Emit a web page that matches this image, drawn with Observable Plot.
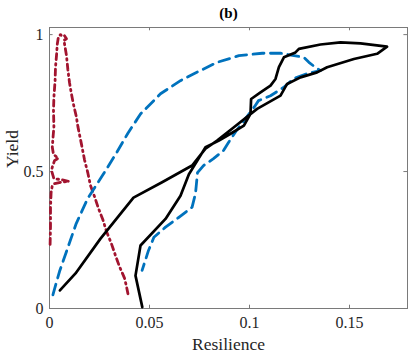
<!DOCTYPE html>
<html>
<head>
<meta charset="utf-8">
<script src="https://cdn.jsdelivr.net/npm/d3@7"></script>
<script src="https://cdn.jsdelivr.net/npm/@observablehq/plot@0.6"></script>
<style>
  html, body { margin: 0; padding: 0; background: #fff; }
  #chart svg { display: block; }
  #chart svg, #chart svg text { font-family: "Liberation Serif", "Times New Roman", serif !important; }
</style>
</head>
<body>
<div id="chart"></div>
<script>
// ---- data ----
const title = "(b)";
const xLabel = "Resilience";
const yLabel = "Yield";
const xTicks = [0, 0.05, 0.1, 0.15];
const xTickLabels = ["0", "0.05", "0.1", "0.15"];
const yTicks = [0, 0.5, 1];
const yTickLabels = ["0", "0.5", "1"];
const xDomain = [0, 0.179];
const yDomain = [0, 1.026];

// black solid curve
const blackX = [0.0052, 0.013, 0.0255, 0.042, 0.0563, 0.0713, 0.078, 0.0838, 0.0922, 0.1038, 0.1155, 0.1188, 0.1255, 0.1338, 0.1388, 0.1522, 0.1638, 0.1688,
  0.1555, 0.1455, 0.1355, 0.1247, 0.123, 0.1172, 0.1147, 0.113, 0.1105, 0.1055, 0.1008, 0.1005, 0.0972, 0.0905, 0.0847, 0.078, 0.073, 0.0697, 0.0655, 0.058, 0.0455, 0.043, 0.0464];
const blackY = [0.066, 0.128, 0.255, 0.405, 0.461, 0.522, 0.584, 0.613, 0.662, 0.729, 0.777, 0.82, 0.844, 0.862, 0.881, 0.911, 0.93, 0.956,
  0.968, 0.972, 0.964, 0.948, 0.935, 0.917, 0.881, 0.838, 0.814, 0.789, 0.765, 0.711, 0.668, 0.638, 0.613, 0.589, 0.529, 0.49, 0.412, 0.327, 0.23, 0.12, 0.005];

// blue dashed curve
const blueX = [0.0017, 0.005, 0.0134, 0.0192, 0.0267, 0.0334, 0.0392, 0.0455, 0.0555, 0.0655, 0.0722, 0.0839, 0.0947, 0.1064, 0.1155, 0.1272, 0.1297, 0.1339, 0.1355,
  0.129, 0.122, 0.117, 0.1105, 0.1045, 0.1025, 0.098, 0.0935, 0.0895, 0.087, 0.082, 0.077, 0.074, 0.073, 0.0713, 0.0645, 0.058, 0.0522, 0.0495, 0.0463];
const blueY = [0.05, 0.135, 0.311, 0.403, 0.488, 0.567, 0.64, 0.71, 0.784, 0.832, 0.857, 0.899, 0.923, 0.932, 0.932, 0.917, 0.899, 0.875, 0.869,
  0.858, 0.839, 0.807, 0.777, 0.759, 0.737, 0.693, 0.65, 0.606, 0.577, 0.547, 0.522, 0.496, 0.42, 0.37, 0.332, 0.297, 0.26, 0.212, 0.139];

// red dash-dot curve
const redX = [0.0003, 0.0005, 0.0005, 0.0008, 0.0014, 0.0025, 0.0065, 0.0098, 0.0055, 0.0022, 0.001, 0.0014, 0.0025, 0.0045, 0.002, 0.0014, 0.0018, 0.0022, 0.002, 0.0022, 0.0028, 0.003, 0.0035, 0.0039, 0.0045, 0.0055, 0.0065, 0.0075, 0.0085, 0.007, 0.0075,
  0.0085, 0.0092, 0.01, 0.0109, 0.012, 0.0134, 0.0142, 0.015, 0.0159, 0.0175, 0.0192, 0.0205, 0.0225, 0.0245, 0.0267, 0.0285, 0.0309, 0.033, 0.035, 0.0375, 0.0385, 0.0393];
const redY = [0.234, 0.299, 0.369, 0.423, 0.449, 0.456, 0.462, 0.464, 0.471, 0.474, 0.504, 0.516, 0.54, 0.549, 0.562, 0.589, 0.628, 0.662, 0.723, 0.771, 0.832, 0.881, 0.923, 0.966, 0.993, 1.0, 0.993, 0.996, 0.985, 0.978, 0.967,
  0.923, 0.871, 0.825, 0.786, 0.745, 0.701, 0.664, 0.635, 0.603, 0.543, 0.494, 0.449, 0.409, 0.365, 0.324, 0.281, 0.238, 0.193, 0.153, 0.111, 0.08, 0.051];

// ---- build tables ----
const toRows = (xs, ys) => xs.map((x, i) => ({x, y: ys[i]}));
const black = toRows(blackX, blackY);
const blue = toRows(blueX, blueY);
const red = toRows(redX, redY);

const serif = "Liberation Serif, Times New Roman, serif";
const textColor = "#262626";
const axisColor = "#7a7a7a";
const xTickLen = 0.012;   // in y units
const yTickLen = 0.0018;  // in x units

const chart = Plot.plot({
  width: 409,
  height: 354,
  marginLeft: 49,
  marginRight: 2,
  marginTop: 27,
  marginBottom: 46,
  style: "background: #fff; font-family: 'Liberation Serif', serif;",
  x: {domain: xDomain, ticks: xTicks},
  y: {domain: yDomain, ticks: yTicks},
  marks: [
    Plot.frame({stroke: axisColor, strokeWidth: 1}),
    // inward tick marks on all four sides
    Plot.ruleX(xTicks, {x: d => d, y1: yDomain[0], y2: yDomain[0] + xTickLen, stroke: axisColor}),
    Plot.ruleX(xTicks, {x: d => d, y1: yDomain[1], y2: yDomain[1] - xTickLen, stroke: axisColor}),
    Plot.ruleY(yTicks, {y: d => d, x1: xDomain[0], x2: xDomain[0] + yTickLen, stroke: axisColor}),
    Plot.ruleY(yTicks, {y: d => d, x1: xDomain[1], x2: xDomain[1] - yTickLen, stroke: axisColor}),
    Plot.axisX({ticks: xTicks, tickSize: 0, tickPadding: 8, tickFormat: (d) => xTickLabels[xTicks.indexOf(d)], label: null, fontSize: 16, fontFamily: serif, fill: textColor}),
    Plot.axisY({ticks: yTicks, tickSize: 0, tickPadding: 6, tickFormat: (d) => yTickLabels[yTicks.indexOf(d)], label: null, fontSize: 16, fontFamily: serif, fill: textColor}),
    Plot.line(red, {x: "x", y: "y", stroke: "#A2142F", strokeWidth: 2.8, strokeDasharray: "6,4,1.5,4", strokeLinejoin: "round"}),
    Plot.line(blue, {x: "x", y: "y", stroke: "#0072BD", strokeWidth: 2.8, strokeDasharray: "11,6.5", strokeLinejoin: "round"}),
    Plot.line(black, {x: "x", y: "y", stroke: "#000", strokeWidth: 2.7, strokeLinejoin: "round"}),
    Plot.text([xLabel], {frameAnchor: "bottom", dy: 36, text: d => d, fontSize: 17.5, fontFamily: serif, fill: textColor, lineAnchor: "middle"}),
    Plot.text([yLabel], {frameAnchor: "left", dx: -37, rotate: -90, text: d => d, fontSize: 17.5, fontFamily: serif, fill: textColor, lineAnchor: "middle"}),
    Plot.text([title], {frameAnchor: "top", dy: -14, text: d => d, fontSize: 15, fontFamily: serif, fontWeight: "bold", fill: "#000", lineAnchor: "middle"})
  ]
});
document.getElementById("chart").appendChild(chart);
</script>
</body>
</html>
